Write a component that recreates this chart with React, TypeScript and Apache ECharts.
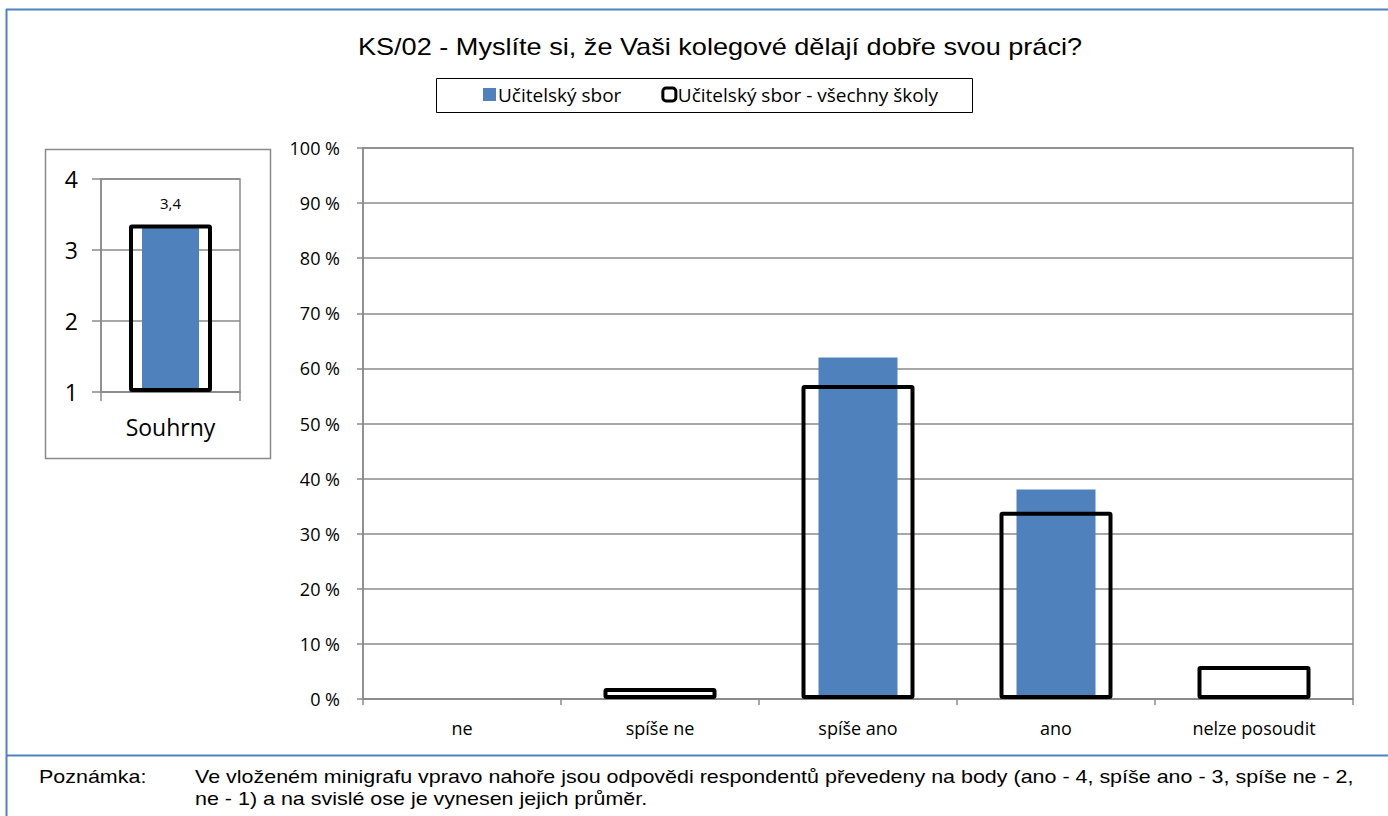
import React, { useEffect, useRef } from 'react';
import * as echarts from 'echarts';

const titleText = 'KS/02 - Myslíte si, že Vaši kolegové dělají dobře svou práci?';
const seriesNames = ['Učitelský sbor', 'Učitelský sbor - všechny školy'];
const categories = ['ne', 'spíše ne', 'spíše ano', 'ano', 'nelze posoudit'];
const schoolValues = [0, 0, 62, 38, 0];
const allSchoolsValues = [0, 2, 57, 34, 6];
const summaryCategories = ['Souhrny'];
const summarySchool = [3.32];
const summaryAll = [3.36];
const noteLabel = 'Poznámka:';
const noteLines = [
  'Ve vloženém minigrafu vpravo nahoře jsou odpovědi respondentů převedeny na body (ano - 4, spíše ano - 3, spíše ne - 2,',
  'ne - 1) a na svislé ose je vynesen jejich průměr.',
];

const BLUE = '#4f81bd';
const GRID = '#8a8a8a';
const LABEL_FONT = '"Open Sans", sans-serif';
const ARIAL = '"Liberation Sans", Arial, sans-serif';

export default function App() {
  const ref = useRef<HTMLDivElement>(null);
  useEffect(() => {
    if (!ref.current) return;
    const chart = echarts.init(ref.current, null, { renderer: 'svg' });
    const zeroToEmpty = (v: number) => (v === 0 ? '-' : v);
    chart.setOption({
      animation: false,
      backgroundColor: '#fff',
      grid: [
        { left: 363, top: 148, width: 990, height: 551, show: true, borderColor: GRID, borderWidth: 1.5 },
        { left: 101, top: 179, width: 139, height: 213, show: true, borderColor: GRID, borderWidth: 1.5 },
      ],
      legend: {
        left: 483,
        top: 85,
        itemWidth: 13,
        itemHeight: 13,
        itemGap: 40,
        selectedMode: false,
        padding: 0,
        textStyle: { fontFamily: LABEL_FONT, fontSize: 19, color: '#000', padding: [0, 0, 0, -3] },
        data: [
          { name: seriesNames[0], icon: 'rect', itemStyle: { color: BLUE } },
          { name: seriesNames[1], icon: 'roundRect', itemStyle: { color: '#fff', borderColor: '#000', borderWidth: 3 } },
        ],
      },
      xAxis: [
        {
          type: 'category', gridIndex: 0, data: categories,
          axisLine: { lineStyle: { color: GRID, width: 1.5 } },
          axisTick: { show: true, length: 6, lineStyle: { color: GRID, width: 1.5 } },
          axisLabel: { fontFamily: LABEL_FONT, fontSize: 18, color: '#000', margin: 20 },
          splitLine: { show: false },
        },
        { type: 'category', gridIndex: 0, data: categories, show: false },
        {
          type: 'category', gridIndex: 1, data: summaryCategories,
          axisLine: { lineStyle: { color: GRID, width: 1.5 } },
          axisTick: { show: true, length: 9, lineStyle: { color: GRID, width: 1.5 } },
          axisLabel: { fontFamily: LABEL_FONT, fontSize: 23, color: '#000', margin: 23 },
          splitLine: { show: false },
        },
        { type: 'category', gridIndex: 1, data: summaryCategories, show: false },
      ],
      yAxis: [
        {
          type: 'value', gridIndex: 0, min: 0, max: 100, interval: 10,
          axisLine: { show: true, lineStyle: { color: GRID, width: 1.5 } },
          axisTick: { show: true, length: 6, lineStyle: { color: GRID, width: 1.5 } },
          axisLabel: { fontFamily: LABEL_FONT, fontSize: 18, color: '#000', margin: 23, formatter: '{value} %' },
          splitLine: { show: true, lineStyle: { color: GRID, width: 1.5 } },
        },
        {
          type: 'value', gridIndex: 1, min: 1, max: 4, interval: 1, startValue: 1,
          axisLine: { show: true, lineStyle: { color: GRID, width: 1.5 } },
          axisTick: { show: true, length: 9, lineStyle: { color: GRID, width: 1.5 } },
          axisLabel: { fontFamily: LABEL_FONT, fontSize: 23, color: '#000', margin: 23 },
          splitLine: { show: true, lineStyle: { color: GRID, width: 1.5 } },
        },
      ],
      series: [
        {
          name: seriesNames[0], type: 'bar', xAxisIndex: 0, yAxisIndex: 0,
          data: schoolValues, barWidth: 79, itemStyle: { color: BLUE },
        },
        {
          name: seriesNames[1], type: 'bar', xAxisIndex: 1, yAxisIndex: 0,
          data: allSchoolsValues.map(zeroToEmpty), barWidth: 113,
          itemStyle: { color: 'rgba(0,0,0,0)', borderColor: '#000', borderWidth: 4, borderRadius: 1 },
        },
        {
          name: seriesNames[0], type: 'bar', xAxisIndex: 2, yAxisIndex: 1,
          data: summarySchool, barWidth: 57, itemStyle: { color: BLUE },
        },
        {
          name: seriesNames[1], type: 'bar', xAxisIndex: 3, yAxisIndex: 1,
          data: summaryAll, barWidth: 83,
          itemStyle: { color: 'rgba(0,0,0,0)', borderColor: '#000', borderWidth: 4, borderRadius: 1 },
          label: {
            show: true, position: 'top', distance: 14,
            fontFamily: LABEL_FONT, fontSize: 15, color: '#000',
            formatter: (p: any) => (Math.round(p.value * 10) / 10).toFixed(1).replace('.', ','),
          },
        },
      ],
      graphic: [
        { type: 'line', shape: { x1: 6.5, y1: 9, x2: 6.5, y2: 820 }, style: { stroke: BLUE, lineWidth: 2 } },
        { type: 'line', shape: { x1: 6, y1: 9.5, x2: 1400, y2: 9.5 }, style: { stroke: BLUE, lineWidth: 2 } },
        { type: 'line', shape: { x1: 7, y1: 755.5, x2: 1388, y2: 755.5 }, style: { stroke: BLUE, lineWidth: 2 } },
        { type: 'rect', shape: { x: 45.5, y: 149.5, width: 225, height: 309 }, style: { fill: 'none', stroke: GRID, lineWidth: 1.5 } },
        { type: 'rect', shape: { x: 436.5, y: 78.5, width: 536, height: 34 }, style: { fill: 'none', stroke: '#000', lineWidth: 1 } },
        {
          type: 'text', x: 720, y: 47, scaleX: 1.13,
          style: { text: titleText, font: `24px ${ARIAL}`, fill: '#000', align: 'center', verticalAlign: 'middle' },
        },
        {
          type: 'text', x: 39, y: 776, scaleX: 1.13,
          style: { text: noteLabel, font: `19px ${ARIAL}`, fill: '#000', align: 'left', verticalAlign: 'middle' },
        },
        {
          type: 'text', x: 195, y: 776, scaleX: 1.13,
          style: { text: noteLines[0], font: `19px ${ARIAL}`, fill: '#000', align: 'left', verticalAlign: 'middle' },
        },
        {
          type: 'text', x: 195, y: 798, scaleX: 1.13,
          style: { text: noteLines[1], font: `19px ${ARIAL}`, fill: '#000', align: 'left', verticalAlign: 'middle' },
        },
      ],
    });
    return () => chart.dispose();
  }, []);
  return <div ref={ref} style={{ position: 'absolute', left: 0, top: 0, width: 1388, height: 816 }} />;
}
